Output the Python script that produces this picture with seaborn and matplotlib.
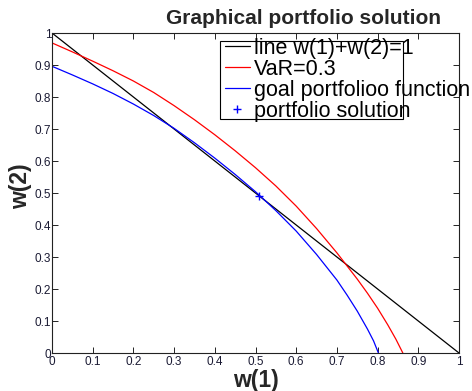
import matplotlib
matplotlib.use("Agg")
import matplotlib.pyplot as plt
import seaborn as sns
import pandas as pd
from matplotlib.patches import Rectangle

# ---- data ----
line_x = [0.0, 1.0]
line_y = [1.0, 0.0]

var_x = [0.0, 0.05, 0.1, 0.15, 0.2, 0.25, 0.3, 0.35, 0.4, 0.45, 0.5, 0.55,
         0.6, 0.65, 0.7, 0.75, 0.775, 0.8, 0.825, 0.845, 0.862]
var_y = [0.969, 0.941, 0.912, 0.882, 0.850, 0.814, 0.773, 0.729, 0.682, 0.632,
         0.579, 0.522, 0.459, 0.389, 0.313, 0.231, 0.187, 0.140, 0.088, 0.043, 0.0]

goal_x = [0.0, 0.05, 0.1, 0.15, 0.2, 0.25, 0.3, 0.35, 0.4, 0.45, 0.5, 0.55,
          0.6, 0.65, 0.7, 0.725, 0.75, 0.775, 0.79, 0.802]
goal_y = [0.896, 0.869, 0.841, 0.811, 0.778, 0.742, 0.702, 0.657, 0.609, 0.558,
          0.504, 0.445, 0.381, 0.308, 0.228, 0.181, 0.131, 0.075, 0.038, 0.0]

sol_x = [0.508]
sol_y = [0.492]

labels = ["line w(1)+w(2)=1", "VaR=0.3", "goal portfolioo function", "portfolio solution"]
ticks = [0, 0.1, 0.2, 0.3, 0.4, 0.5, 0.6, 0.7, 0.8, 0.9, 1]
tick_labels = ["0", "0.1", "0.2", "0.3", "0.4", "0.5", "0.6", "0.7", "0.8", "0.9", "1"]

# ---- style ----
sns.set_style("ticks")
plt.rcParams['font.family'] = ['Liberation Sans', 'DejaVu Sans']

fig = plt.figure(figsize=(4.72, 3.91), dpi=100)
ax = fig.add_axes([52 / 472, 38 / 391, 407 / 472, 320 / 391])

df_line = pd.DataFrame({"x": line_x, "y": line_y})
df_var = pd.DataFrame({"x": var_x, "y": var_y})
df_goal = pd.DataFrame({"x": goal_x, "y": goal_y})
df_sol = pd.DataFrame({"x": sol_x, "y": sol_y})

sns.lineplot(data=df_line, x="x", y="y", ax=ax, color="black", lw=0.9,
             label=labels[0], sort=False, estimator=None)
sns.lineplot(data=df_var, x="x", y="y", ax=ax, color="#ff0000", lw=0.9,
             label=labels[1], sort=False, estimator=None)
sns.lineplot(data=df_goal, x="x", y="y", ax=ax, color="#0000ff", lw=0.9,
             label=labels[2], sort=False, estimator=None)
ax.plot(sol_x, sol_y, linestyle="none", marker="+", color="#0000ff",
        markersize=6, mew=1.0, label=labels[3])

ax.set_xlim(0, 1)
ax.set_ylim(0, 1)
ax.set_xticks(ticks)
ax.set_xticklabels(tick_labels)
ax.set_yticks(ticks)
ax.set_yticklabels(tick_labels)
ax.tick_params(direction="in", length=4, width=0.6, top=True, right=True,
               labelsize=8.5, colors="black", labelcolor="#1a1a33")
ax.tick_params(axis="y", pad=0.5)
ax.tick_params(axis="x", pad=2)
for s in ax.spines.values():
    s.set_visible(True)
    s.set_linewidth(0.8)
    s.set_color("#222222")

ax.set_xlabel("w(1)", fontsize=16.5, fontweight="bold", labelpad=1)
ax.set_ylabel("w(2)", fontsize=16.5, fontweight="bold")
ax.yaxis.set_label_coords(-0.05, 0.52)

fig.text(303 / 472, 1 - 19 / 391, "Graphical portfolio solution", ha="center",
         va="center", fontsize=15, fontweight="bold")

# legend (box drawn separately so text may overflow it, as in the reference)
leg = ax.legend(loc="upper left", bbox_to_anchor=((225 - 52) / 407, (353 - 38) / 320),
                frameon=False, fontsize=15.5, labelspacing=0.0, handlelength=1.15,
                handletextpad=0.2, borderaxespad=0, borderpad=0)
for t in leg.get_texts():
    t.set_color("black")
box = Rectangle((220 / 472, 1 - 119 / 391), (403 - 220) / 472, (119 - 41) / 391,
                transform=fig.transFigure, facecolor="white", edgecolor="black",
                lw=0.8, zorder=2.5)
ax.add_artist(box)
box.set_clip_on(False)
leg.set_zorder(3)

fig.savefig("out.png", dpi=100)
